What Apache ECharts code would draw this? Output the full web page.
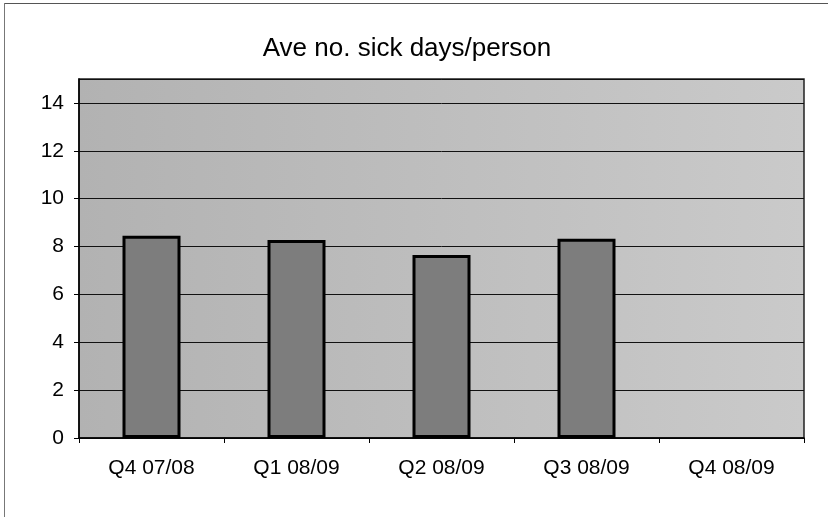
<!DOCTYPE html>
<html>
<head>
<meta charset="utf-8">
<script src="https://cdn.jsdelivr.net/npm/echarts@6/dist/echarts.min.js"></script>
<style>
html,body{margin:0;padding:0;background:#fff;}
#c{width:828px;height:517px;}
</style>
</head>
<body>
<div id="c"></div>
<script>
var titleText = "Ave no. sick days/person";
var categories = ["Q4 07/08", "Q1 08/09", "Q2 08/09", "Q3 08/09", "Q4 08/09"];
var sickDays = [8.45, 8.27, 7.65, 8.32, null];
var yMin = 0, yMax = 15, yStep = 2;

var chart = echarts.init(document.getElementById('c'));
var font = '"Liberation Sans", Arial, sans-serif';
chart.setOption({
  animation: false,
  backgroundColor: '#ffffff',
  title: {
    text: titleText,
    left: 402, top: 31, textAlign: 'center',
    textStyle: {fontFamily: font, fontSize: 26, fontWeight: 'normal', color: '#000'}
  },
  graphic: [
    {type: 'line', shape: {x1: 4, y1: 3.5, x2: 828, y2: 3.5}, style: {stroke: '#555', lineWidth: 1}},
    {type: 'line', shape: {x1: 4.5, y1: 3, x2: 4.5, y2: 517}, style: {stroke: '#777', lineWidth: 1}}
  ],
  grid: {
    left: 79, right: 24, top: 79, bottom: 79,
    show: true,
    borderColor: '#222', borderWidth: 1.5,
    backgroundColor: new echarts.graphic.LinearGradient(0, 0, 1, 0, [
      {offset: 0, color: '#b2b2b2'},
      {offset: 1, color: '#cacaca'}
    ])
  },
  xAxis: {
    type: 'category',
    data: categories,
    axisLine: {lineStyle: {color: '#000', width: 1.5}},
    axisTick: {show: true, length: 5, interval: 0, lineStyle: {color: '#000'}},
    axisLabel: {fontFamily: font, fontSize: 21, color: '#000', margin: 20, interval: 0}
  },
  yAxis: {
    type: 'value',
    min: yMin, max: yMax, interval: yStep,
    axisLine: {show: true, lineStyle: {color: '#000', width: 1.5}},
    axisTick: {show: true, length: 5, lineStyle: {color: '#000'}},
    axisLabel: {fontFamily: font, fontSize: 21, color: '#000', margin: 15, showMaxLabel: false,
      formatter: function (v) { return v === yMax ? '' : String(v); }},
    splitLine: {show: true, lineStyle: {color: '#111', width: 1}}
  },
  series: [{
    type: 'bar',
    data: sickDays,
    barWidth: '40%',
    itemStyle: {color: '#7d7d7d', borderColor: '#000', borderWidth: 3}
  }]
});
</script>
</body>
</html>
